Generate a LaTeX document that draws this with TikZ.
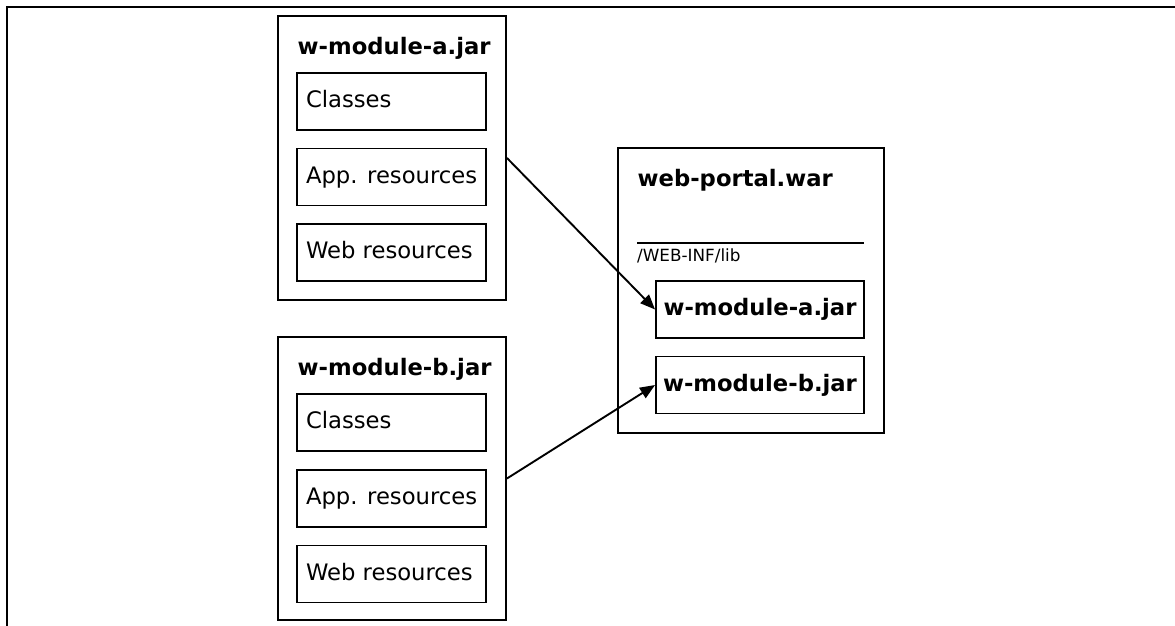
\documentclass[tikz,border=0pt]{standalone}
\usepackage{fontspec}
\setmainfont{DejaVu Sans}
\usetikzlibrary{arrows.meta}
\newcommand\bodyfs{\fontsize{22.7}{27}\selectfont}
\newcommand\notefs{\fontsize{16.8}{20}\selectfont}
% left-aligned label of fixed width inside a part box
\newcommand\plab[1]{\makebox[171pt][l]{#1}}
\begin{document}
\begin{tikzpicture}[x=1pt,y=-1pt,
  container/.style={draw, line width=1.9pt, rectangle, inner sep=0pt},
  part/.style={draw, line width=1.9pt, rectangle, minimum height=57pt,
    inner xsep=9pt, inner ysep=0pt,
    font=\bodyfs, text height=17pt, text depth=4.8pt},
  jarbox/.style={draw, line width=1.9pt, rectangle, minimum height=57pt,
    minimum width=208pt, inner sep=0pt, font=\bfseries\bodyfs,
    text height=17pt, text depth=4.8pt},
  title/.style={anchor=base west, inner sep=0pt, font=\bfseries\bodyfs},
  note/.style={anchor=base west, inner sep=0pt, font=\notefs},
  conn/.style={line width=1.9pt, -{Triangle[length=15pt,width=12pt]}}]
\useasboundingbox (0,0) rectangle (1175,626);

% page frame
\draw[line width=2.5pt] (1175,7) -- (7,7) -- (7,626);

% module a
\node[container, minimum width=228pt, minimum height=284pt] (modA) at (392,158) {};
\node[title] (modAtitle) at (297.5,54.5) {w-module-a.jar};
\node[part] (modAcls) at (391.5,101.5) {\plab{Classes}};
\node[part] (modAapp) at (391.5,177) {\plab{App. resources}};
\node[part] (modAweb) at (391.5,252.5) {\plab{Web resources}};

% module b
\node[container, minimum width=228pt, minimum height=283pt] (modB) at (392,478.5) {};
\node[title] (modBtitle) at (297.5,375.5) {w-module-b.jar};
\node[part] (modBcls) at (391.5,422.5) {\plab{Classes}};
\node[part] (modBapp) at (391.5,498.5) {\plab{App. resources}};
\node[part] (modBweb) at (391.5,574) {\plab{Web resources}};

% web portal archive
\node[container, minimum width=266pt, minimum height=285pt] (war) at (751,290.5) {};
\node[title] (wartitle) at (637.5,186.7) {web-portal.war};
\coordinate (libL) at (637,243);
\coordinate (libR) at (864,243);
\draw[line width=1.9pt] (libL) -- (libR);
\node[note] (libname) at (637,261) {/WEB-INF/lib};
\node[jarbox] (jarA) at (760,309.5) {w-module-a.jar};
\node[jarbox] (jarB) at (760,385) {w-module-b.jar};

% packaging arrows
\draw[conn] (modA.east) -- (jarA.west);
\draw[conn] (modB.east) -- (jarB.west);
\end{tikzpicture}
\end{document}
